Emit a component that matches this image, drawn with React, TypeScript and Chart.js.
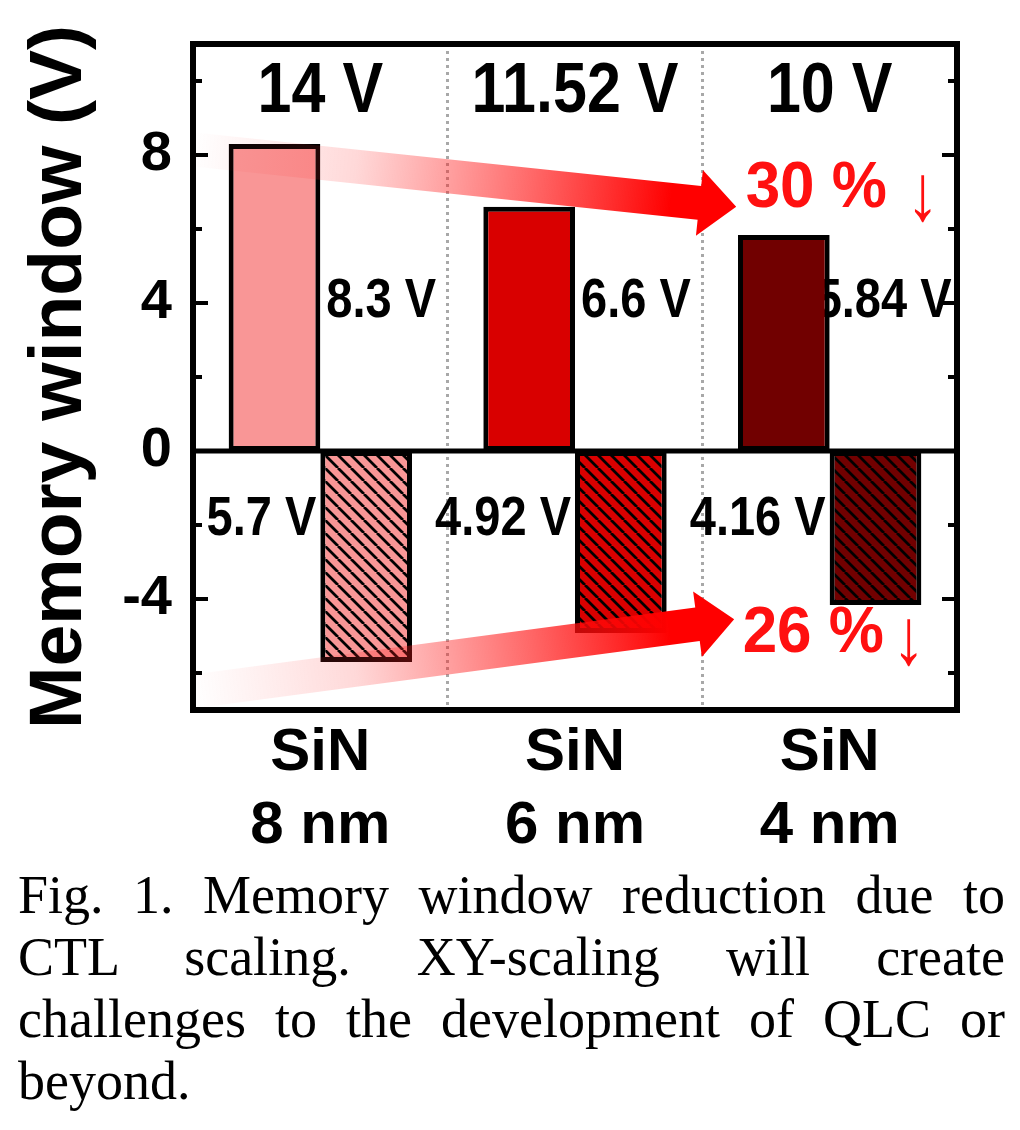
import React, { useEffect, useRef } from 'react';
import { Chart, registerables } from 'chart.js';

Chart.register(...registerables);

// ---- data ----
const categories = [['SiN', '8 nm'], ['SiN', '6 nm'], ['SiN', '4 nm']];
const programWindow = [8.3, 6.6, 5.84];
const eraseWindow = [-5.7, -4.92, -4.16];
const programVoltages = ['14 V', '11.52 V', '10 V'];
const reductions = ['30 %', '26 %'];
const yMajorTicks = [-4, 0, 4, 8];
const yMinorTicks = [-6, -2, 2, 6, 10];
const barColors = ['#F99696', '#D90000', '#710000'];
const captionLines = [
  'Fig. 1. Memory window reduction due to',
  'CTL scaling. XY-scaling will create',
  'challenges to the development of QLC or',
  'beyond.',
];

const SANS = "'Liberation Sans', Arial, sans-serif";
const SERIF = "'Liberation Serif', 'Times New Roman', serif";

function makeHatch(color: string) {
  const s = 13;
  const c = document.createElement('canvas');
  c.width = s;
  c.height = s;
  const g = c.getContext('2d')!;
  g.fillStyle = color;
  g.fillRect(0, 0, s, s);
  g.strokeStyle = '#000';
  g.lineWidth = 2.8;
  g.beginPath();
  for (const o of [-s, 0, s]) {
    g.moveTo(o, 0);
    g.lineTo(o + s, s);
  }
  g.stroke();
  return g.createPattern(c, 'repeat')!;
}

function drawText(ctx: CanvasRenderingContext2D, text: string, x: number, y: number, font: string, sy: number, align: CanvasTextAlign, color: string) {
  ctx.save();
  ctx.translate(x, y);
  ctx.scale(1, sy);
  ctx.font = font;
  ctx.textAlign = align;
  ctx.textBaseline = 'alphabetic';
  ctx.fillStyle = color;
  ctx.fillText(text, 0, 0);
  ctx.restore();
}

function drawArrow(ctx: CanvasRenderingContext2D, x1: number, y1: number, x2: number, y2: number) {
  const dx = x2 - x1, dy = y2 - y1;
  const len = Math.hypot(dx, dy);
  const ux = dx / len, uy = dy / len;
  const nx = -uy, ny = ux;
  const hw = 17, hh = 33, hl = 37;
  const bx = x2 - ux * hl, by = y2 - uy * hl;
  const grad = ctx.createLinearGradient(x1, y1, x2, y2);
  grad.addColorStop(0, 'rgba(255,60,60,0)');
  grad.addColorStop(0.3, 'rgba(255,40,40,0.18)');
  grad.addColorStop(0.88, 'rgba(255,0,0,1)');
  grad.addColorStop(1, 'rgba(255,0,0,1)');
  ctx.save();
  ctx.beginPath();
  ctx.moveTo(x1 + nx * hw, y1 + ny * hw);
  ctx.lineTo(bx + nx * hw, by + ny * hw);
  ctx.lineTo(bx + nx * hh, by + ny * hh);
  ctx.lineTo(x2, y2);
  ctx.lineTo(bx - nx * hh, by - ny * hh);
  ctx.lineTo(bx - nx * hw, by - ny * hw);
  ctx.lineTo(x1 - nx * hw, y1 - ny * hw);
  ctx.closePath();
  ctx.fillStyle = grad;
  ctx.fill();
  ctx.restore();
}

const annotations = {
  id: 'annotations',
  beforeDatasetsDraw(chart: any) {
    const { ctx, scales } = chart;
    const ys = scales.y;
    const meta0 = chart.getDatasetMeta(0);
    const meta1 = chart.getDatasetMeta(1);
    const shifts = [6, 6, -14];
    programWindow.forEach((v, i) => {
      const bar = meta0.data[i];
      const right = bar.x + bar.width / 2;
      drawText(ctx, `${v} V`, right + shifts[i], ys.getPixelForValue(3.62), `bold 47px ${SANS}`, 1.18, 'left', '#000');
    });
    eraseWindow.forEach((v, i) => {
      const bar = meta1.data[i];
      const left = bar.x - bar.width / 2;
      drawText(ctx, `${Math.abs(v)} V`, left - 4, ys.getPixelForValue(-2.27), `bold 47px ${SANS}`, 1.18, 'right', '#000');
    });
  },
  afterDatasetsDraw(chart: any) {
    const { ctx, scales, chartArea } = chart;
    const xs = scales.x, ys = scales.y;
    // zero line
    ctx.save();
    ctx.strokeStyle = '#000';
    ctx.lineWidth = 5;
    ctx.beginPath();
    const y0 = ys.getPixelForValue(0);
    ctx.moveTo(chartArea.left, y0);
    ctx.lineTo(chartArea.right, y0);
    ctx.stroke();
    ctx.restore();
    // arrows
    drawArrow(ctx, xs.getPixelForValue(-0.5), ys.getPixelForValue(8.15), xs.getPixelForValue(1.633), ys.getPixelForValue(6.6));
    drawArrow(ctx, xs.getPixelForValue(-0.5), ys.getPixelForValue(-6.5), xs.getPixelForValue(1.625), ys.getPixelForValue(-4.55));
    // reduction labels
    const rx = xs.getPixelForValue(1.67);
    drawText(ctx, reductions[0], rx, ys.getPixelForValue(6.6), `bold 62px ${SANS}`, 1.05, 'left', '#FF1010');
    drawText(ctx, '\u2193', rx + 177, ys.getPixelForValue(6.25), `66px ${SERIF}`, 1.2, 'center', '#FF1010');
    drawText(ctx, reductions[1], rx - 3, ys.getPixelForValue(-5.42), `bold 62px ${SANS}`, 1.05, 'left', '#FF1010');
    drawText(ctx, '\u2193', rx + 163, ys.getPixelForValue(-5.77), `66px ${SERIF}`, 1.2, 'center', '#FF1010');
    // program voltages on top
    programVoltages.forEach((t, i) => {
      drawText(ctx, t, xs.getPixelForValue(i), ys.getPixelForValue(9.15), `bold 61px ${SANS}`, 1.14, 'center', '#000');
    });
  },
  afterDraw(chart: any) {
    const { ctx, scales, chartArea } = chart;
    const ys = scales.y;
    const { left, right, top, bottom } = chartArea;
    ctx.save();
    ctx.strokeStyle = '#000';
    ctx.lineWidth = 4;
    ctx.beginPath();
    yMajorTicks.forEach((v) => {
      const y = ys.getPixelForValue(v);
      ctx.moveTo(left, y); ctx.lineTo(left + 15, y);
      ctx.moveTo(right, y); ctx.lineTo(right - 15, y);
    });
    yMinorTicks.forEach((v) => {
      const y = ys.getPixelForValue(v);
      ctx.moveTo(left, y); ctx.lineTo(left + 9, y);
      ctx.moveTo(right, y); ctx.lineTo(right - 9, y);
    });
    ctx.stroke();
    ctx.lineWidth = 6;
    ctx.strokeRect(left, top, right - left, bottom - top);
    ctx.restore();
  },
};

export default function App() {
  const ref = useRef<HTMLCanvasElement>(null);
  useEffect(() => {
    document.body.style.margin = '0';
    const canvas = ref.current!;
    const hatches = barColors.map(makeHatch);
    const chart = new Chart(canvas, {
      type: 'bar',
      data: {
        labels: categories as any,
        datasets: [
          {
            label: 'Program',
            data: programWindow,
            backgroundColor: barColors,
            borderColor: '#000',
            borderWidth: 5,
            borderSkipped: false,
            categoryPercentage: 0.72,
            barPercentage: 1,
          },
          {
            label: 'Erase',
            data: eraseWindow,
            backgroundColor: hatches as any,
            borderColor: '#000',
            borderWidth: 5,
            borderSkipped: false,
            categoryPercentage: 0.72,
            barPercentage: 1,
          },
        ],
      },
      options: {
        responsive: false,
        animation: false,
        layout: { padding: { left: 0, top: 44, right: 63, bottom: 0 } },
        plugins: { legend: { display: false }, tooltip: { enabled: false } },
        scales: {
          x: {
            grid: { display: true, offset: true, drawTicks: false, color: '#a8a8a8', lineWidth: 3 },
            border: { display: false, dash: [3, 4] },
            ticks: { color: '#000', padding: 7, font: { family: SANS, size: 60, weight: 'bold', lineHeight: 1.22 } },
            afterFit: (s: any) => { s.height = 150; s.paddingLeft = 0; s.paddingRight = 0; },
          },
          y: {
            min: -7,
            max: 11,
            afterBuildTicks: (s: any) => { s.ticks = yMajorTicks.map((v) => ({ value: v })); },
            grid: { display: false, drawTicks: false },
            border: { display: false },
            ticks: { color: '#000', padding: 21, font: { family: SANS, size: 56, weight: 'bold' } },
            title: {
              display: true,
              text: 'Memory window (V)',
              color: '#000',
              font: { family: SANS, size: 75, weight: 'bold', lineHeight: 1 },
              padding: { top: 23, bottom: 0 },
            },
            afterFit: (s: any) => { s.width = 193; s.paddingTop = 0; s.paddingBottom = 0; },
          },
        },
      } as any,
      plugins: [annotations],
    });
    return () => chart.destroy();
  }, []);

  return (
    <div style={{ width: 1020, background: '#fff' }}>
      <canvas ref={ref} width={1020} height={860} style={{ display: 'block' }} />
      <div
        style={{
          boxSizing: 'border-box',
          width: 1020,
          padding: '4px 15px 0 18px',
          fontFamily: SERIF,
          fontSize: 54,
          lineHeight: '62px',
          color: '#000',
        }}
      >
        {captionLines.map((l, i) => (
          <div key={i} style={{ textAlign: 'justify', textAlignLast: i < captionLines.length - 1 ? 'justify' : 'left' } as any}>
            {l}
          </div>
        ))}
      </div>
    </div>
  );
}
